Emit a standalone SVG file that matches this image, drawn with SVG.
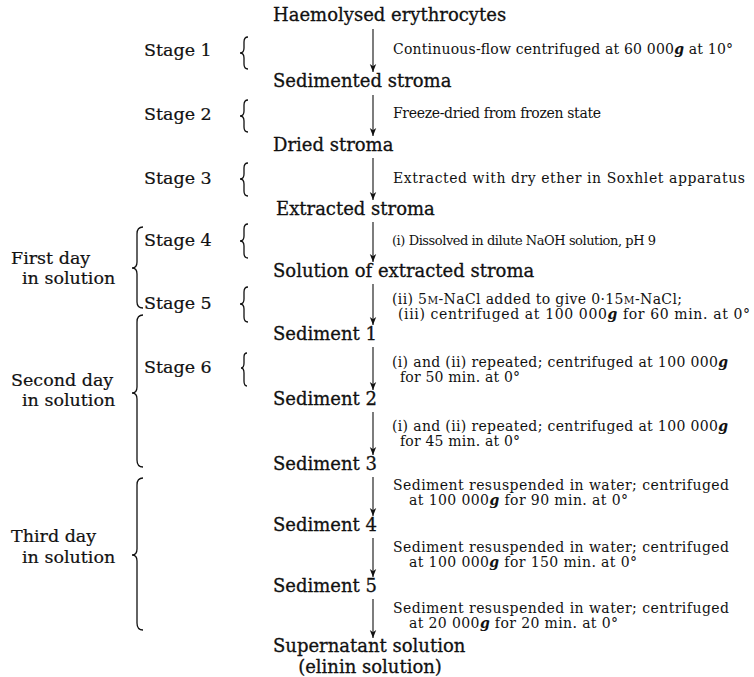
<svg xmlns="http://www.w3.org/2000/svg" width="754" height="677" viewBox="0 0 754 677">
<style>
text{font-family:"DejaVu Serif","Liberation Serif",serif;fill:#111}
.n{font-size:18px;stroke:#111;stroke-width:0.3}
.s{font-size:17.5px;stroke:#111;stroke-width:0.2}
.t{font-size:14px}
.g{font-weight:bold;font-style:italic}
.sc{font-size:10.5px}
.br{fill:none;stroke:#111;stroke-width:1.3}
.ar{fill:none;stroke:#111;stroke-width:1.1}
</style>
<defs>
<marker id="ah" markerWidth="10" markerHeight="8" refX="9" refY="4" orient="auto" markerUnits="userSpaceOnUse" viewBox="0 0 10 8">
<path d="M1,0.8 L9,4 L1,7.2 L3.2,4 Z" fill="#111"/>
</marker>
</defs>
<rect width="754" height="677" fill="#fff"/>

<g id="connectors">
<line class="ar" x1="373" y1="29" x2="373" y2="72" marker-end="url(#ah)"/>
<line class="ar" x1="373" y1="95" x2="373" y2="136" marker-end="url(#ah)"/>
<line class="ar" x1="373" y1="158" x2="373" y2="200" marker-end="url(#ah)"/>
<line class="ar" x1="373" y1="222" x2="373" y2="262" marker-end="url(#ah)"/>
<line class="ar" x1="373" y1="284" x2="373" y2="325" marker-end="url(#ah)"/>
<line class="ar" x1="373" y1="347" x2="373" y2="390" marker-end="url(#ah)"/>
<line class="ar" x1="373" y1="412" x2="373" y2="455" marker-end="url(#ah)"/>
<line class="ar" x1="373" y1="477" x2="373" y2="516" marker-end="url(#ah)"/>
<line class="ar" x1="373" y1="538" x2="373" y2="577" marker-end="url(#ah)"/>
<line class="ar" x1="373" y1="599" x2="373" y2="638" marker-end="url(#ah)"/>
</g>

<g id="node-haemolysed"><text class="n" x="273" y="21">Haemolysed erythrocytes</text></g>
<g id="node-sedimented"><text class="n" x="273" y="87">Sedimented stroma</text></g>
<g id="node-dried"><text class="n" x="273" y="151">Dried stroma</text></g>
<g id="node-extracted"><text class="n" x="276" y="215">Extracted stroma</text></g>
<g id="node-solution"><text class="n" x="273" y="277">Solution of extracted stroma</text></g>
<g id="node-sed1"><text class="n" x="273" y="340">Sediment 1</text></g>
<g id="node-sed2"><text class="n" x="273" y="405">Sediment 2</text></g>
<g id="node-sed3"><text class="n" x="273" y="470">Sediment 3</text></g>
<g id="node-sed4"><text class="n" x="273" y="531">Sediment 4</text></g>
<g id="node-sed5"><text class="n" x="273" y="592">Sediment 5</text></g>
<g id="node-supernatant"><text class="n" x="273" y="652">Supernatant solution</text><text class="n" x="370" y="673" text-anchor="middle">(elinin solution)</text></g>

<g id="notes">
<text class="t" x="393" y="54" textLength="340" lengthAdjust="spacing">Continuous-flow centrifuged at 60 000<tspan class="g">g</tspan> at 10°</text>
<text class="t" x="393" y="118" textLength="208" lengthAdjust="spacing">Freeze-dried from frozen state</text>
<text class="t" x="393" y="183" textLength="352" lengthAdjust="spacing">Extracted with dry ether in Soxhlet apparatus</text>
<text class="t" x="392" y="245" style="font-size:13px" textLength="264" lengthAdjust="spacing">(i) Dissolved in dilute NaOH solution, pH 9</text>
<text class="t" x="392" y="304" textLength="290" lengthAdjust="spacing">(ii) 5<tspan class="sc">M</tspan>-NaCl added to give 0·15<tspan class="sc">M</tspan>-NaCl;</text>
<text class="t" x="398" y="319" textLength="352" lengthAdjust="spacing">(iii) centrifuged at 100 000<tspan class="g">g</tspan> for 60 min. at 0°</text>
<text class="t" x="392" y="367" textLength="336" lengthAdjust="spacing">(i) and (ii) repeated; centrifuged at 100 000<tspan class="g">g</tspan></text>
<text class="t" x="400" y="382" textLength="120" lengthAdjust="spacing">for 50 min. at 0°</text>
<text class="t" x="392" y="431" textLength="336" lengthAdjust="spacing">(i) and (ii) repeated; centrifuged at 100 000<tspan class="g">g</tspan></text>
<text class="t" x="400" y="446" textLength="120" lengthAdjust="spacing">for 45 min. at 0°</text>
<text class="t" x="393" y="490" textLength="336" lengthAdjust="spacing">Sediment resuspended in water; centrifuged</text>
<text class="t" x="409" y="505" textLength="219" lengthAdjust="spacing">at 100 000<tspan class="g">g</tspan> for 90 min. at 0°</text>
<text class="t" x="393" y="552" textLength="336" lengthAdjust="spacing">Sediment resuspended in water; centrifuged</text>
<text class="t" x="409" y="567" textLength="228" lengthAdjust="spacing">at 100 000<tspan class="g">g</tspan> for 150 min. at 0°</text>
<text class="t" x="393" y="613" textLength="336" lengthAdjust="spacing">Sediment resuspended in water; centrifuged</text>
<text class="t" x="409" y="628" textLength="209" lengthAdjust="spacing">at 20 000<tspan class="g">g</tspan> for 20 min. at 0°</text>
</g>

<g id="stages">
<text class="s" x="144" y="56">Stage 1</text>
<text class="s" x="144" y="120">Stage 2</text>
<text class="s" x="144" y="184">Stage 3</text>
<text class="s" x="144" y="246">Stage 4</text>
<text class="s" x="144" y="309">Stage 5</text>
<text class="s" x="144" y="373">Stage 6</text>
<path class="br" d="M248,37 Q244,37 244,42 L244,48 Q244,53 240,53 Q244,53 244,58 L244,64 Q244,69 248,69"/>
<path class="br" d="M248,100 Q244,100 244,105 L244,111 Q244,116 240,116 Q244,116 244,121 L244,127 Q244,132 248,132"/>
<path class="br" d="M248,163 Q244,163 244,168 L244,174 Q244,179 240,179 Q244,179 244,184 L244,191 Q244,196 248,196"/>
<path class="br" d="M248,224 Q244,224 244,229 L244,236 Q244,241 240,241 Q244,241 244,246 L244,253 Q244,258 248,258"/>
<path class="br" d="M248,287 Q244,287 244,292 L244,299 Q244,304 240,304 Q244,304 244,309 L244,317 Q244,322 248,322"/>
<path class="br" d="M247,353 Q244,353 244,357 L244,363 Q244,368 241,368 Q244,368 244,373 L244,381 Q244,386 247,386"/>
</g>

<g id="days">
<text class="s" x="11" y="264">First day</text>
<text class="s" x="22" y="284">in solution</text>
<text class="s" x="11" y="386">Second day</text>
<text class="s" x="22" y="406">in solution</text>
<text class="s" x="11" y="542">Third day</text>
<text class="s" x="22" y="563">in solution</text>
<path class="br" d="M143,227 Q137,227 137,234 L137,262 Q137,268 132,268 Q137,268 137,274 L137,302 Q137,308 143,308"/>
<path class="br" d="M143,315 Q137,315 137,322 L137,387 Q137,393 132,393 Q137,393 137,399 L137,460 Q137,467 143,467"/>
<path class="br" d="M143,478 Q137,478 137,485 L137,549 Q137,555 132,555 Q137,555 137,561 L137,623 Q137,630 143,630"/>
</g>
</svg>
